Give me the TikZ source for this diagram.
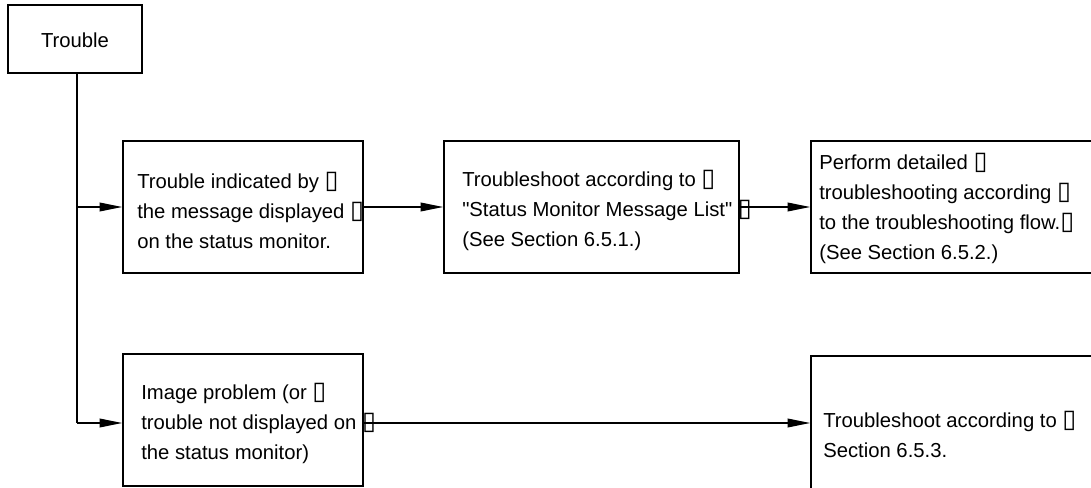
\documentclass[tikz,border=0pt]{standalone}
\usepackage{fontspec}
\setmainfont{Liberation Sans}
\newfontfamily\symfont{DejaVu Sans}
\usetikzlibrary{arrows.meta}
\newcommand\tofu{{\symfont\fontsize{19pt}{19pt}\selectfont ▯}}
\tikzset{
  boxshape/.style={draw, line width=1.1pt, rectangle, inner sep=0pt},
  txt/.style={anchor=west, align=left, inner sep=0pt, font=\fontsize{15.2pt}{22.5pt}\selectfont},
  arr/.style={line width=1.1pt, -{Triangle[length=17pt,width=6.5pt]}},
  ln/.style={line width=1.1pt}
}
\begin{document}
\begin{tikzpicture}[x=0.75pt,y=-0.75pt]
\useasboundingbox (0,0) rectangle (1091,488);
% boxes
\node[boxshape, minimum width=134*0.75pt, minimum height=68*0.75pt] (trouble) at (75,39) {};
\node[txt, anchor=center] (troublet) at (75,40) {Trouble};
\node[boxshape, minimum width=240*0.75pt, minimum height=132*0.75pt] (a) at (243,207) {};
\node[boxshape, minimum width=295*0.75pt, minimum height=132*0.75pt] (b) at (591.5,207) {};
\node[boxshape, minimum width=300*0.75pt, minimum height=132*0.75pt] (c) at (961,207) {};
\node[boxshape, minimum width=240*0.75pt, minimum height=132*0.75pt] (d) at (243,420) {};
\node[boxshape, minimum width=300*0.75pt, minimum height=160*0.75pt] (e) at (961,436) {};
% texts
\node[txt] (at) at (137,210) {Trouble indicated by \tofu\\the message displayed \tofu\\on the status monitor.};
\node[txt] (bt) at (462,210) {Troubleshoot according to \tofu\\\textquotedbl Status Monitor Message List\textquotedbl\ \tofu\\(See Section 6.5.1.)};
\node[txt] (ct) at (819,208) {Perform detailed \tofu\\troubleshooting according \tofu\\to the troubleshooting flow.\tofu\\(See Section 6.5.2.)};
\node[txt] (dt) at (141,423) {Image problem (or \tofu\\trouble not displayed on \tofu\\the status monitor)};
\node[txt] (et) at (823,434) {Troubleshoot according to \tofu\\Section 6.5.3.};
% connectors
\coordinate (j1) at (77,207);
\coordinate (j2) at (77,423);
\draw[ln] (trouble.south -| j1) -- (j2);
\draw[arr] (j1) -- (j1 -| a.west);
\draw[arr] (j2) -- (j2 -| d.west);
\draw[arr] (a.east) -- (b.west);
\draw[arr] (b.east) -- (c.west);
\draw[arr] (j2 -| d.east) -- (j2 -| e.west);
\end{tikzpicture}
\end{document}
